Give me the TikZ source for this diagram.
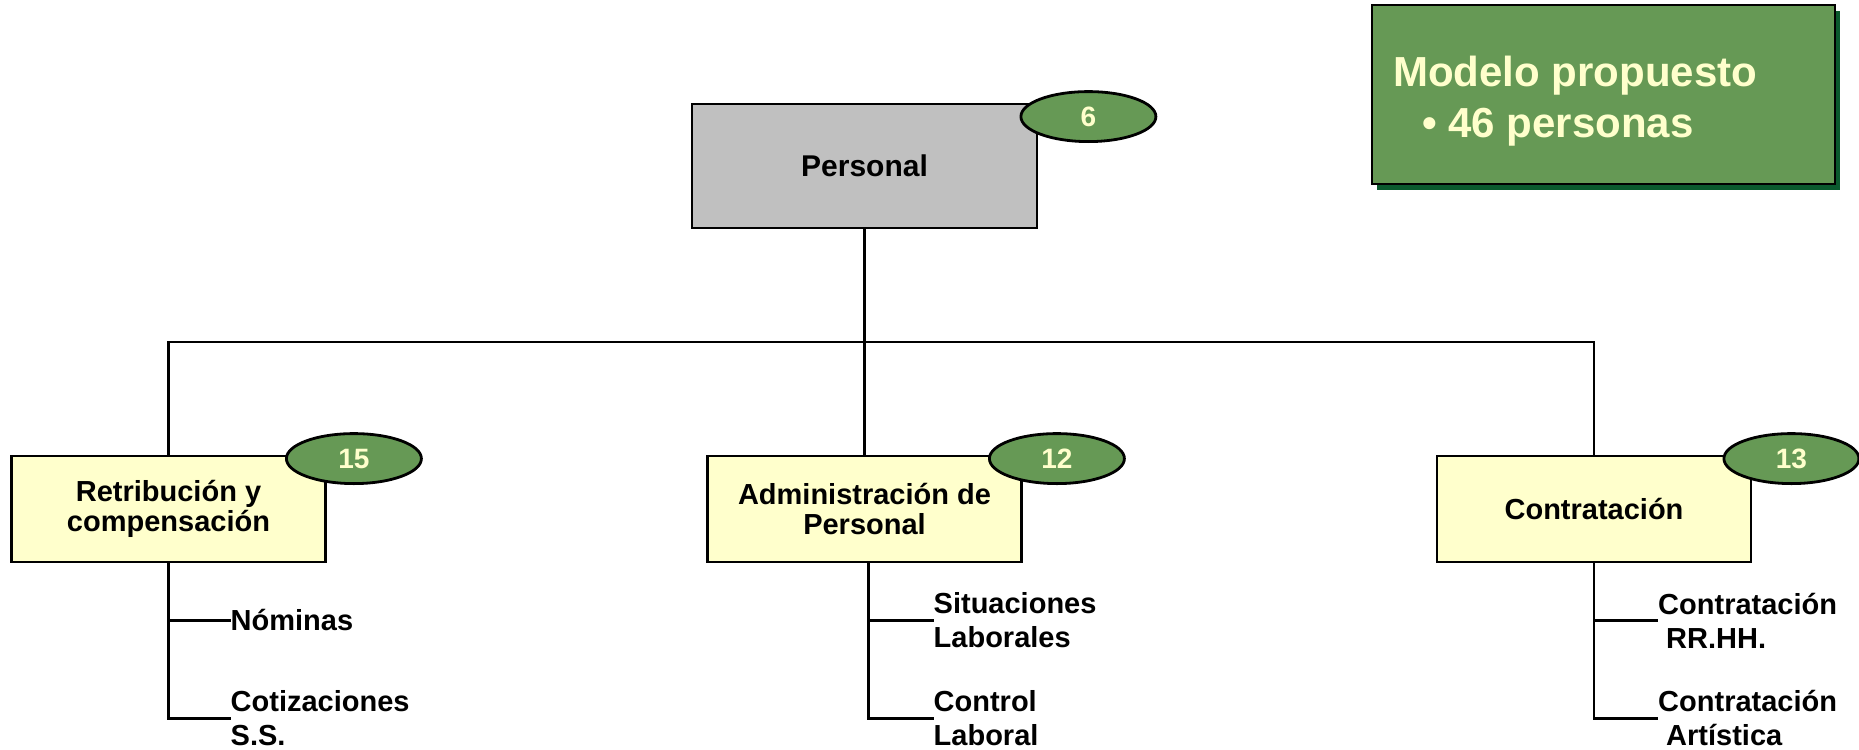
\documentclass[tikz,border=0pt]{standalone}
\usepackage{fontspec}
\setmainfont{Liberation Sans}
\usepackage{xcolor}
\usepackage{tikz}
\usetikzlibrary{positioning,calc,shapes.geometric,shadows}
\definecolor{ink}{HTML}{000000}
\definecolor{leaf}{HTML}{669955}
\definecolor{deepleaf}{HTML}{0B5A2E}
\definecolor{cream}{HTML}{FFFFCC}
\definecolor{slate}{HTML}{C0C0C0}
\tikzset{
  head/.style={draw=ink,line width=2.8pt,fill=slate,align=center,minimum width=345pt,minimum height=124pt,font=\fontsize{30}{34}\selectfont\bfseries},
  unit/.style={draw=ink,line width=2.8pt,fill=cream,align=center,minimum width=314pt,minimum height=106pt,inner sep=0pt,font=\fontsize{29}{30}\selectfont\bfseries},
  badge/.style={draw=ink,line width=2.8pt,ellipse,fill=leaf,text=cream,minimum width=135pt,minimum height=50pt,inner sep=0pt,font=\fontsize{28}{28}\selectfont\bfseries},
  task/.style={anchor=west,align=left,inner sep=0pt,font=\fontsize{29}{34}\selectfont\bfseries},
  link/.style={draw=ink,line width=2.8pt},
  modelbox/.style={draw=ink,line width=2.8pt,fill=leaf,minimum width=463pt,minimum height=179pt,general shadow={fill=deepleaf,shadow xshift=5pt,shadow yshift=-6pt}},
  modeltext/.style={anchor=base west,inner sep=0pt,text=cream,font=\fontsize{42}{50}\selectfont\bfseries}
}

\begin{document}
\begin{tikzpicture}[x=1pt,y=-1pt]
  \useasboundingbox (0,0) rectangle (1859,749);
  % summary box
  \node[modelbox] (model) at (1603.5,94.5) {};
  \node[modeltext] (mtitle) at (1393,87) {Modelo propuesto};
  \node[modeltext] (mcount) at ($(mtitle.base west)+(29,50)$) {• 46 personas};
  % tree
  \node[head] (pers) at (864.5,166) {Personal};
  \node[unit] (ret) at (168.5,509) {Retribución y\\compensación};
  \node[unit] (adm) at (864.5,509) {Administración de\\Personal};
  \node[unit] (con) at (1594,509) {Contratación};
  \coordinate (bus) at (864.5,342);
  \draw[link] (pers.south) -- (bus);
  \draw[link] (ret.north) |- (bus) -| (con.north);
  \draw[link] (bus) -- (adm.north);
  % badges
  \node[badge] (bpers) at ($(pers.north east)+(50,14)$) {6};
  \node[badge] (bret) at ($(ret.north east)+(27,4)$) {15};
  \node[badge] (badm) at ($(adm.north east)+(34,4)$) {12};
  \node[badge] (bcon) at ($(con.north east)+(39,4)$) {13};
  % tasks
  \node[task] (nom) at ($(ret.south)+(62,57)$) {Nóminas};
  \node[task] (cot) at ($(ret.south)+(62,155)$) {Cotizaciones\\S.S.};
  \coordinate (admstem) at ($(adm.south)+(4,0)$);
  \node[task] (sit) at ($(admstem)+(65,57)$) {Situaciones\\Laborales};
  \node[task] (ctl) at ($(admstem)+(65,155)$) {Control\\Laboral};
  \node[task] (crh) at ($(con.south)+(64,57)$) {Contratación\\\hspace*{8pt}RR.HH.};
  \node[task] (cart) at ($(con.south)+(64,155)$) {Contratación\\\hspace*{8pt}Artística};
  \draw[link] (ret.south) |- (nom.west);
  \draw[link] (ret.south) |- (cot.west);
  \draw[link] (admstem) |- (sit.west);
  \draw[link] (admstem) |- (ctl.west);
  \draw[link] (con.south) |- (crh.west);
  \draw[link] (con.south) |- (cart.west);
\end{tikzpicture}
\end{document}
